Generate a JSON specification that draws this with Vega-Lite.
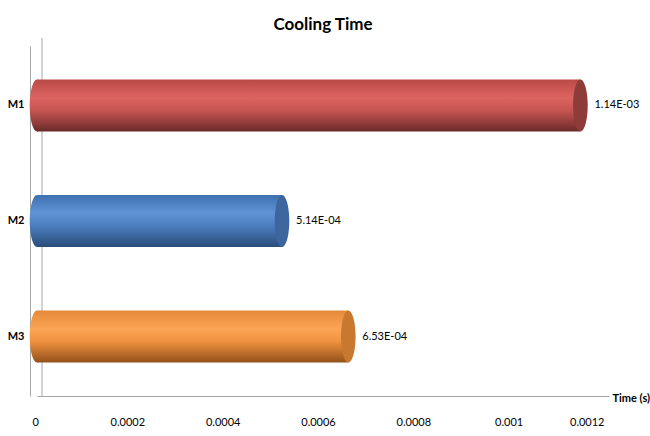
{
  "$schema": "https://vega.github.io/schema/vega-lite/v6.json",
  "width": 572,
  "height": 350,
  "autosize": {"type": "none"},
  "padding": {"left": 37, "top": 46, "right": 41, "bottom": 40},
  "background": "white",
  "config": {"view": {"stroke": null}, "font": "Lato"},
  "title": {"text": "Cooling Time", "fontSize": 17, "fontWeight": "bold", "color": "#000000", "offset": 4, "anchor": "middle", "font": "Lato"},
  "data": {"values": [
    {"model": "M1", "time": 0.00114, "label": "1.14E-03"},
    {"model": "M2", "time": 0.000514, "label": "5.14E-04"},
    {"model": "M3", "time": 0.000653, "label": "6.53E-04"}
  ]},
  "layer": [
    {
      "transform": [{"filter": "datum.model === 'M1'"}],
      "mark": {"type": "rule", "color": "#a6a6a6", "strokeWidth": 1, "xOffset": 5, "yOffset": -8, "y2Offset": -12},
      "encoding": {
        "x": {"datum": 0, "type": "quantitative", "scale": {"domain": [0, 0.0012], "nice": false, "zero": true},
          "axis": {"values": [0, 0.0002, 0.0004, 0.0006, 0.0008, 0.001, 0.0012], "format": "~g", "grid": false, "ticks": false,
            "domainColor": "#a6a6a6", "domainWidth": 1, "labelFontSize": 11, "labelColor": "#000000", "labelPadding": 20, "labelOffset": -5,
            "labelFont": "Lato",
            "title": "Time (s)", "titleFontSize": 11, "titleFontWeight": "bold", "titleColor": "#000000",
            "titleFont": "Lato",
            "titleX": 575, "titleY": 2, "titleAlign": "left", "titleBaseline": "middle", "titleAngle": 0}}
      }
    },
    {
      "transform": [{"filter": "datum.model === 'M1'"}],
      "mark": {"type": "point", "filled": true, "opacity": 1, "strokeWidth": 0, "size": 2704,
        "shape": "M0,-1C0.155,-1,0.28,-0.552,0.28,0C0.28,0.552,0.155,1,0,1C-0.155,1,-0.28,0.552,-0.28,0C-0.28,-0.552,-0.155,-1,0,-1Z",
        "fill": {"gradient": "linear", "x1": 0, "y1": 0, "x2": 0, "y2": 1, "stops": [
          {"offset": 0, "color": "#b94a47"}, {"offset": 0.35, "color": "#dc6461"}, {"offset": 0.6, "color": "#c55451"}, {"offset": 1, "color": "#6a2a28"}]}},
      "encoding": {
        "x": {"datum": 0, "type": "quantitative", "scale": {"domain": [0, 0.0012], "nice": false}},
        "y": {"field": "model", "type": "nominal", "sort": null, "scale": {"paddingInner": 0.55, "paddingOuter": 0.29},
          "axis": {"title": null, "ticks": false, "offset": 7, "domainColor": "#a6a6a6", "domainWidth": 1, "labelFontSize": 11, "labelFontWeight": "bold",
            "labelColor": "#000000", "labelPadding": 6, "labelFont": "Lato"}}
      }
    },
    {
      "transform": [{"filter": "datum.model === 'M2'"}],
      "mark": {"type": "point", "filled": true, "opacity": 1, "strokeWidth": 0, "size": 2704,
        "shape": "M0,-1C0.155,-1,0.28,-0.552,0.28,0C0.28,0.552,0.155,1,0,1C-0.155,1,-0.28,0.552,-0.28,0C-0.28,-0.552,-0.155,-1,0,-1Z",
        "fill": {"gradient": "linear", "x1": 0, "y1": 0, "x2": 0, "y2": 1, "stops": [
          {"offset": 0, "color": "#3f70b0"}, {"offset": 0.35, "color": "#5e94d6"}, {"offset": 0.6, "color": "#4b7dbd"}, {"offset": 1, "color": "#2a4d7a"}]}},
      "encoding": {
        "x": {"datum": 0, "type": "quantitative"},
        "y": {"field": "model", "type": "nominal", "sort": null}
      }
    },
    {
      "transform": [{"filter": "datum.model === 'M3'"}],
      "mark": {"type": "point", "filled": true, "opacity": 1, "strokeWidth": 0, "size": 2704,
        "shape": "M0,-1C0.155,-1,0.28,-0.552,0.28,0C0.28,0.552,0.155,1,0,1C-0.155,1,-0.28,0.552,-0.28,0C-0.28,-0.552,-0.155,-1,0,-1Z",
        "fill": {"gradient": "linear", "x1": 0, "y1": 0, "x2": 0, "y2": 1, "stops": [
          {"offset": 0, "color": "#e5893a"}, {"offset": 0.35, "color": "#fca554"}, {"offset": 0.6, "color": "#ee923f"}, {"offset": 1, "color": "#94501a"}]}},
      "encoding": {
        "x": {"datum": 0, "type": "quantitative"},
        "y": {"field": "model", "type": "nominal", "sort": null}
      }
    },
    {
      "transform": [{"filter": "datum.model === 'M1'"}],
      "mark": {"type": "bar", "fill": {"gradient": "linear", "x1": 0, "y1": 0, "x2": 0, "y2": 1, "stops": [
          {"offset": 0, "color": "#b94a47"}, {"offset": 0.35, "color": "#dc6461"}, {"offset": 0.6, "color": "#c55451"}, {"offset": 1, "color": "#6a2a28"}]}},
      "encoding": {
        "x": {"field": "time", "type": "quantitative"},
        "y": {"field": "model", "type": "nominal", "sort": null}
      }
    },
    {
      "transform": [{"filter": "datum.model === 'M2'"}],
      "mark": {"type": "bar", "fill": {"gradient": "linear", "x1": 0, "y1": 0, "x2": 0, "y2": 1, "stops": [
          {"offset": 0, "color": "#3f70b0"}, {"offset": 0.35, "color": "#5e94d6"}, {"offset": 0.6, "color": "#4b7dbd"}, {"offset": 1, "color": "#2a4d7a"}]}},
      "encoding": {
        "x": {"field": "time", "type": "quantitative"},
        "y": {"field": "model", "type": "nominal", "sort": null}
      }
    },
    {
      "transform": [{"filter": "datum.model === 'M3'"}],
      "mark": {"type": "bar", "fill": {"gradient": "linear", "x1": 0, "y1": 0, "x2": 0, "y2": 1, "stops": [
          {"offset": 0, "color": "#e5893a"}, {"offset": 0.35, "color": "#fca554"}, {"offset": 0.6, "color": "#ee923f"}, {"offset": 1, "color": "#94501a"}]}},
      "encoding": {
        "x": {"field": "time", "type": "quantitative"},
        "y": {"field": "model", "type": "nominal", "sort": null}
      }
    },
    {
      "mark": {"type": "point", "filled": true, "opacity": 1, "strokeWidth": 0, "size": 2704,
        "shape": "M0,-1C0.155,-1,0.28,-0.552,0.28,0C0.28,0.552,0.155,1,0,1C-0.155,1,-0.28,0.552,-0.28,0C-0.28,-0.552,-0.155,-1,0,-1Z"},
      "encoding": {
        "x": {"field": "time", "type": "quantitative"},
        "y": {"field": "model", "type": "nominal", "sort": null},
        "color": {"field": "model", "type": "nominal", "legend": null,
          "scale": {"domain": ["M1", "M2", "M3"], "range": ["#8e3c3a", "#3d669e", "#c9782f"]}}
      }
    },
    {
      "mark": {"type": "text", "align": "left", "baseline": "middle", "dx": 14, "fontSize": 11, "color": "#000000", "font": "Lato"},
      "encoding": {
        "x": {"field": "time", "type": "quantitative"},
        "y": {"field": "model", "type": "nominal", "sort": null},
        "text": {"field": "label"}
      }
    }
  ]
}
